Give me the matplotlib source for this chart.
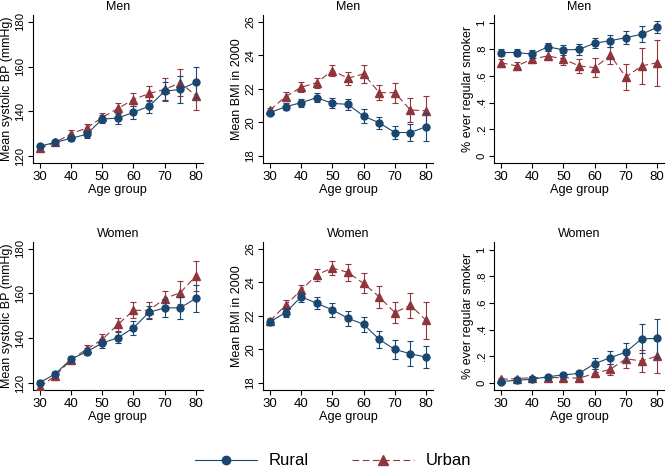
import matplotlib
matplotlib.use("Agg")
import matplotlib.pyplot as plt
from matplotlib.lines import Line2D

plt.rcParams['font.family'] = ['Liberation Sans', 'DejaVu Sans']

ages = [30, 35, 40, 45, 50, 55, 60, 65, 70, 75, 80]

# Men
men_bp_rural = [124.5, 126.2, 128.0, 129.8, 136.6, 137.0, 139.6, 142.3, 149.0, 149.8, 153.0]
men_bp_rural_err = [1.0, 1.0, 1.2, 1.5, 1.8, 2.5, 3.0, 3.0, 4.0, 6.0, 7.0]
men_bp_urban = [123.6, 126.2, 130.0, 132.6, 137.3, 141.3, 145.3, 148.0, 149.8, 152.8, 147.0]
men_bp_urban_err = [1.0, 1.0, 1.5, 1.8, 2.2, 2.5, 3.0, 3.3, 5.0, 6.0, 6.5]

men_bmi_rural = [20.58, 20.94, 21.18, 21.48, 21.14, 21.08, 20.38, 19.98, 19.40, 19.40, 19.74]
men_bmi_rural_err = [0.15, 0.2, 0.25, 0.25, 0.3, 0.35, 0.4, 0.35, 0.4, 0.5, 0.85]
men_bmi_urban = [20.74, 21.54, 22.10, 22.38, 23.10, 22.64, 22.90, 21.78, 21.78, 20.74, 20.70]
men_bmi_urban_err = [0.15, 0.25, 0.3, 0.3, 0.35, 0.4, 0.55, 0.45, 0.6, 0.7, 0.9]

men_smk_rural = [0.777, 0.777, 0.765, 0.820, 0.797, 0.800, 0.848, 0.866, 0.889, 0.914, 0.967]
men_smk_rural_err = [0.025, 0.025, 0.03, 0.03, 0.035, 0.04, 0.04, 0.045, 0.05, 0.06, 0.045]
men_smk_urban = [0.700, 0.676, 0.727, 0.752, 0.727, 0.676, 0.663, 0.757, 0.592, 0.676, 0.700]
men_smk_urban_err = [0.03, 0.03, 0.03, 0.035, 0.045, 0.05, 0.07, 0.065, 0.1, 0.135, 0.175]

# Women
wom_bp_rural = [120.3, 124.2, 130.8, 134.0, 137.9, 140.3, 144.7, 151.6, 153.6, 153.6, 157.9]
wom_bp_rural_err = [1.0, 1.0, 1.2, 1.5, 2.0, 2.5, 3.0, 3.0, 4.0, 5.0, 6.0]
wom_bp_urban = [118.3, 123.4, 130.5, 135.2, 139.5, 146.2, 152.5, 152.5, 157.7, 160.4, 167.8]
wom_bp_urban_err = [1.0, 1.0, 1.2, 2.0, 2.5, 3.0, 3.5, 3.5, 3.5, 5.0, 6.5]

wom_bmi_rural = [21.64, 22.20, 23.14, 22.76, 22.36, 21.86, 21.50, 20.60, 20.00, 19.74, 19.54]
wom_bmi_rural_err = [0.2, 0.25, 0.3, 0.35, 0.4, 0.45, 0.45, 0.5, 0.55, 0.75, 0.65]
wom_bmi_urban = [21.70, 22.64, 23.54, 24.46, 24.86, 24.60, 23.94, 23.14, 22.20, 22.64, 21.74]
wom_bmi_urban_err = [0.2, 0.3, 0.3, 0.35, 0.4, 0.5, 0.6, 0.65, 0.65, 0.75, 1.1]

wom_smk_rural = [0.008, 0.018, 0.025, 0.045, 0.058, 0.070, 0.143, 0.188, 0.230, 0.330, 0.333]
wom_smk_rural_err = [0.005, 0.008, 0.01, 0.012, 0.015, 0.02, 0.04, 0.05, 0.07, 0.11, 0.15]
wom_smk_urban = [0.025, 0.030, 0.038, 0.038, 0.038, 0.033, 0.070, 0.100, 0.180, 0.163, 0.200]
wom_smk_urban_err = [0.01, 0.01, 0.01, 0.01, 0.01, 0.012, 0.03, 0.04, 0.07, 0.08, 0.13]

NAVY = "#1a476f"
MAROON = "#90353b"
DASH = (0, (6, 3.2))

smk_ticks = [0, .2, .4, .6, .8, 1]
smk_labels = ["0", ".2", ".4", ".6", ".8", "1"]

panels = [
    # (row, col, title, ylabel, yticks, ylabels, ylim, rural, rural_err, urban, urban_err)
    (0, 0, "Men", "Mean systolic BP (mmHg)", [120, 140, 160, 180], None, (117, 183),
     men_bp_rural, men_bp_rural_err, men_bp_urban, men_bp_urban_err),
    (0, 1, "Men", "Mean BMI in 2000", [18, 20, 22, 24, 26], None, (17.58, 26.42),
     men_bmi_rural, men_bmi_rural_err, men_bmi_urban, men_bmi_urban_err),
    (0, 2, "Men", "% ever regular smoker", smk_ticks, smk_labels, (-0.055, 1.06),
     men_smk_rural, men_smk_rural_err, men_smk_urban, men_smk_urban_err),
    (1, 0, "Women", "Mean systolic BP (mmHg)", [120, 140, 160, 180], None, (117, 183),
     wom_bp_rural, wom_bp_rural_err, wom_bp_urban, wom_bp_urban_err),
    (1, 1, "Women", "Mean BMI in 2000", [18, 20, 22, 24, 26], None, (17.58, 26.42),
     wom_bmi_rural, wom_bmi_rural_err, wom_bmi_urban, wom_bmi_urban_err),
    (1, 2, "Women", "% ever regular smoker", smk_ticks, smk_labels, (-0.055, 1.06),
     wom_smk_rural, wom_smk_rural_err, wom_smk_urban, wom_smk_urban_err),
]

fig = plt.figure(figsize=(6.66, 4.67), dpi=100)

lefts = [0.0495, 0.395, 0.742]
bottoms = [0.651, 0.165]
W, H = 0.255, 0.317

for row, col, title, ylabel, yt, ylab, ylim, r, re, u, ue in panels:
    ax = fig.add_axes([lefts[col], bottoms[row], W, H])
    ax.errorbar(ages, u, yerr=ue, color=MAROON, fmt="none", elinewidth=0.8,
                capsize=2.3, capthick=0.8, zorder=2)
    ax.plot(ages, u, color=MAROON, linestyle=DASH, linewidth=0.8,
            marker="^", markersize=5.5, zorder=3)
    ax.errorbar(ages, r, yerr=re, color=NAVY, fmt="none", elinewidth=0.8,
                capsize=2.3, capthick=0.8, zorder=4)
    ax.plot(ages, r, color=NAVY, linewidth=0.8, marker="o", markersize=5, zorder=5)
    ax.set_xlim(27.8, 82.2)
    ax.set_ylim(*ylim)
    ax.set_xticks([30, 40, 50, 60, 70, 80])
    ax.set_yticks(yt)
    if ylab is not None:
        ax.set_yticklabels(ylab)
    for lab in ax.get_yticklabels():
        lab.set_rotation(90)
        lab.set_va("center")
    for s in ("top", "right"):
        ax.spines[s].set_visible(False)
    for s in ("left", "bottom"):
        ax.spines[s].set_linewidth(0.8)
    ax.tick_params(width=0.8, length=3.5, pad=2)
    ax.tick_params(axis="x", labelsize=9.5)
    ax.tick_params(axis="y", labelsize=8.2)
    ax.set_title(title, fontsize=9, pad=3.5)
    ax.set_ylabel(ylabel, fontsize=9, labelpad=2)
    ax.set_xlabel("Age group", fontsize=9.2, labelpad=1)

handles = [
    Line2D([], [], color=NAVY, linewidth=0.8, marker="o", markersize=6),
    Line2D([], [], color=MAROON, linewidth=0.8, linestyle=DASH, marker="^", markersize=6.5),
]
fig.legend(handles, ["Rural", "Urban"], loc="lower center", bbox_to_anchor=(0.5, -0.035),
           ncol=2, frameon=False, fontsize=12, handlelength=3.7, columnspacing=2.6,
           handletextpad=0.7)

fig.savefig("out.png", dpi=100)
